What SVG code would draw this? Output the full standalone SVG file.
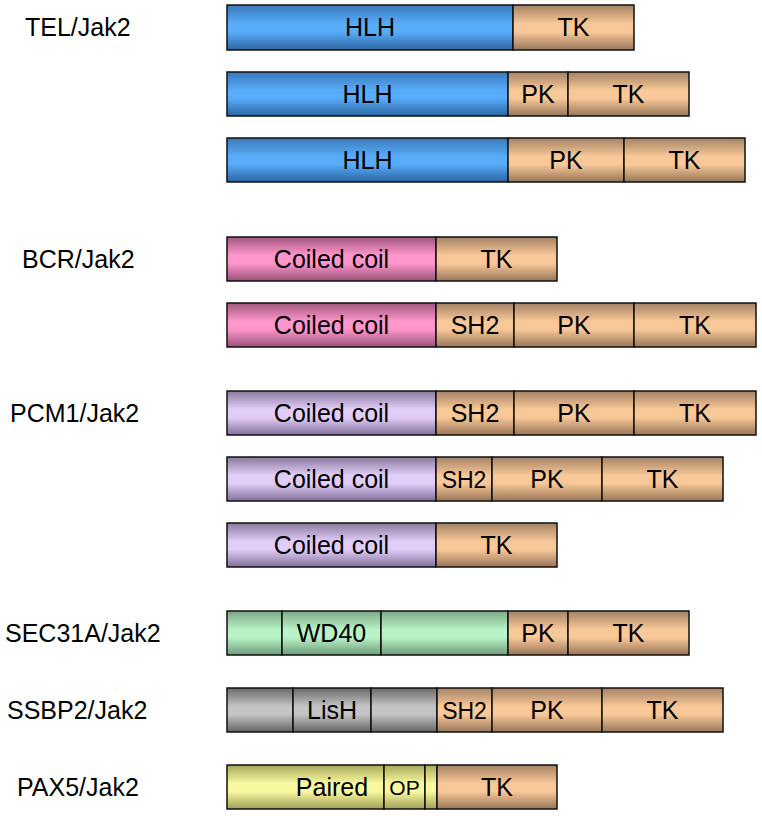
<svg xmlns="http://www.w3.org/2000/svg" width="762" height="816" viewBox="0 0 762 816">
<defs>
<linearGradient id="gBlue" x1="0" y1="0" x2="0" y2="1"><stop offset="0" stop-color="#3a78b8"/><stop offset="0.42" stop-color="#58acfa"/><stop offset="0.6" stop-color="#58acfa"/><stop offset="1" stop-color="#2c64a0"/></linearGradient>
<linearGradient id="gTan" x1="0" y1="0" x2="0" y2="1"><stop offset="0" stop-color="#a48264"/><stop offset="0.42" stop-color="#f8c898"/><stop offset="0.6" stop-color="#f8c898"/><stop offset="1" stop-color="#987658"/></linearGradient>
<linearGradient id="gPink" x1="0" y1="0" x2="0" y2="1"><stop offset="0" stop-color="#a0587e"/><stop offset="0.42" stop-color="#ff96cc"/><stop offset="0.6" stop-color="#ff96cc"/><stop offset="1" stop-color="#985078"/></linearGradient>
<linearGradient id="gLav" x1="0" y1="0" x2="0" y2="1"><stop offset="0" stop-color="#8a7a9e"/><stop offset="0.42" stop-color="#e2cdf8"/><stop offset="0.6" stop-color="#e2cdf8"/><stop offset="1" stop-color="#80709a"/></linearGradient>
<linearGradient id="gGreen" x1="0" y1="0" x2="0" y2="1"><stop offset="0" stop-color="#7aa886"/><stop offset="0.42" stop-color="#b8f2c6"/><stop offset="0.6" stop-color="#b8f2c6"/><stop offset="1" stop-color="#6f9c7b"/></linearGradient>
<linearGradient id="gGray" x1="0" y1="0" x2="0" y2="1"><stop offset="0" stop-color="#6a6a6a"/><stop offset="0.42" stop-color="#c4c4c4"/><stop offset="0.6" stop-color="#c4c4c4"/><stop offset="1" stop-color="#646464"/></linearGradient>
<linearGradient id="gYel" x1="0" y1="0" x2="0" y2="1"><stop offset="0" stop-color="#a8a85c"/><stop offset="0.42" stop-color="#f8f8a0"/><stop offset="0.6" stop-color="#f8f8a0"/><stop offset="1" stop-color="#a0a058"/></linearGradient>
</defs>
<style>
rect{stroke:#111;stroke-width:1.5}
.b{fill:url(#gBlue)} .t{fill:url(#gTan)} .p{fill:url(#gPink)} .l{fill:url(#gLav)} .g{fill:url(#gGreen)} .y{fill:url(#gGray)} .w{fill:url(#gYel)}
text{font-family:"Liberation Sans",Arial,sans-serif;font-size:25px;fill:#000}
.c{text-anchor:middle}
.s{font-size:21px}
</style>
<rect width="762" height="816" fill="#fff" style="stroke:none"/>
<g id="labels">
<text x="25" y="36">TEL/Jak2</text>
<text x="22" y="268">BCR/Jak2</text>
<text x="10" y="422">PCM1/Jak2</text>
<text x="5" y="642">SEC31A/Jak2</text>
<text x="7" y="719">SSBP2/Jak2</text>
<text x="17" y="796">PAX5/Jak2</text>
</g>
<g id="tel1">
<rect class="b" x="227" y="5" width="286" height="45"/><rect class="t" x="513" y="5" width="121" height="45"/>
<text class="c" x="370" y="36">HLH</text><text class="c" x="573.5" y="36">TK</text>
</g>
<g id="tel2">
<rect class="b" x="227" y="72" width="281" height="44"/><rect class="t" x="508" y="72" width="60" height="44"/><rect class="t" x="568" y="72" width="121" height="44"/>
<text class="c" x="367.5" y="103">HLH</text><text class="c" x="538" y="103">PK</text><text class="c" x="628.5" y="103">TK</text>
</g>
<g id="tel3">
<rect class="b" x="227" y="138" width="281" height="44"/><rect class="t" x="508" y="138" width="116" height="44"/><rect class="t" x="624" y="138" width="121" height="44"/>
<text class="c" x="367.5" y="169">HLH</text><text class="c" x="566" y="169">PK</text><text class="c" x="684.5" y="169">TK</text>
</g>
<g id="bcr1">
<rect class="p" x="227" y="237" width="209" height="44"/><rect class="t" x="436" y="237" width="121" height="44"/>
<text class="c" x="331.5" y="268">Coiled coil</text><text class="c" x="496.5" y="268">TK</text>
</g>
<g id="bcr2">
<rect class="p" x="227" y="303" width="209" height="44"/><rect class="t" x="436" y="303" width="78" height="44"/><rect class="t" x="514" y="303" width="120" height="44"/><rect class="t" x="634" y="303" width="122" height="44"/>
<text class="c" x="331.5" y="334">Coiled coil</text><text class="c" x="475" y="334">SH2</text><text class="c" x="574" y="334">PK</text><text class="c" x="695" y="334">TK</text>
</g>
<g id="pcm1">
<rect class="l" x="227" y="391" width="209" height="44"/><rect class="t" x="436" y="391" width="78" height="44"/><rect class="t" x="514" y="391" width="120" height="44"/><rect class="t" x="634" y="391" width="122" height="44"/>
<text class="c" x="331.5" y="422">Coiled coil</text><text class="c" x="475" y="422">SH2</text><text class="c" x="574" y="422">PK</text><text class="c" x="695" y="422">TK</text>
</g>
<g id="pcm2">
<rect class="l" x="227" y="457" width="209" height="44"/><rect class="t" x="436" y="457" width="56" height="44"/><rect class="t" x="492" y="457" width="110" height="44"/><rect class="t" x="602" y="457" width="121" height="44"/>
<text class="c" x="331.5" y="488">Coiled coil</text><text class="c" x="464" y="488" style="font-size:23px">SH2</text><text class="c" x="547" y="488">PK</text><text class="c" x="662.5" y="488">TK</text>
</g>
<g id="pcm3">
<rect class="l" x="227" y="523" width="209" height="44"/><rect class="t" x="436" y="523" width="121" height="44"/>
<text class="c" x="331.5" y="554">Coiled coil</text><text class="c" x="496.5" y="554">TK</text>
</g>
<g id="sec31a">
<rect class="g" x="227" y="611" width="55" height="44"/><rect class="g" x="282" y="611" width="99" height="44"/><rect class="g" x="381" y="611" width="127" height="44"/><rect class="t" x="508" y="611" width="60" height="44"/><rect class="t" x="568" y="611" width="121" height="44"/>
<text class="c" x="331.5" y="642">WD40</text><text class="c" x="538" y="642">PK</text><text class="c" x="628.5" y="642">TK</text>
</g>
<g id="ssbp2">
<rect class="y" x="227" y="688" width="66" height="44"/><rect class="y" x="293" y="688" width="78" height="44"/><rect class="y" x="371" y="688" width="66" height="44"/><rect class="t" x="437" y="688" width="55" height="44"/><rect class="t" x="492" y="688" width="110" height="44"/><rect class="t" x="602" y="688" width="121" height="44"/>
<text class="c" x="332" y="719">LisH</text><text class="c" x="464.5" y="719" style="font-size:23px">SH2</text><text class="c" x="547" y="719">PK</text><text class="c" x="662.5" y="719">TK</text>
</g>
<g id="pax5">
<rect class="w" x="227" y="765" width="157" height="44"/><rect class="w" x="384" y="765" width="41" height="44"/><rect class="w" x="425" y="765" width="12" height="44"/><rect class="t" x="437" y="765" width="120" height="44"/>
<text class="c" x="332" y="796">Paired</text><text class="c s" x="404.5" y="795">OP</text><text class="c" x="497" y="796">TK</text>
</g>
<g id="connectors"/>
</svg>
